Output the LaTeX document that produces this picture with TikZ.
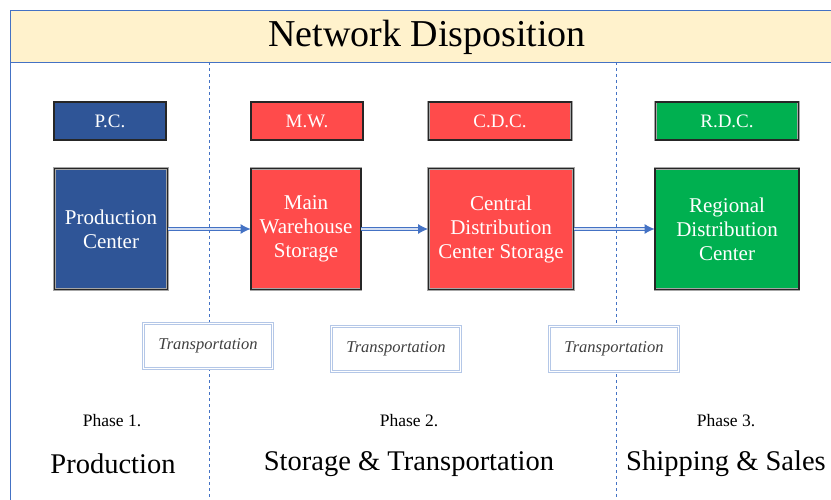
\documentclass[tikz,border=0pt]{standalone}
\usepackage{fontspec}
\setmainfont{Liberation Serif}
\usetikzlibrary{arrows.meta}

\definecolor{pcblue}{HTML}{2F5597}
\definecolor{mwred}{HTML}{FF4B4B}
\definecolor{rdcgreen}{HTML}{00B050}
\definecolor{lineblue}{HTML}{4472C4}
\definecolor{paleblue}{HTML}{B4C7E7}
\definecolor{banner}{HTML}{FFF2CC}

\begin{document}
\begin{tikzpicture}[x=1pt, y=-1pt, >={Latex[length=10pt,width=10pt]},
    tag/.style={draw=gray!70, line width=0.8pt, double=black!85, double distance=1.2pt,
                minimum width=#1, minimum height=38pt,
                text=white, font=\fontsize{19}{20}\selectfont},
    center/.style={draw=gray!70, line width=0.8pt, double=black!85, double distance=1.2pt,
                   minimum width=#1, minimum height=121pt,
                   text=white, align=center, font=\fontsize{21}{24}\selectfont},
    transport/.style={draw=paleblue, fill=white, line width=1pt, double=white, double distance=1.6pt,
                      minimum width=129pt, minimum height=45pt, font=\itshape\fontsize{16.5}{17}\selectfont,
                      text=black!75},
    flow/.style={draw=lineblue, line width=1pt, double=paleblue!60, double distance=1.8pt},
    phase/.style={font=\fontsize{17.5}{18}\selectfont},
    stage/.style={font=\fontsize{28.5}{30}\selectfont}]
    \useasboundingbox (0,0) rectangle (831,500);

    % Header and column lines
    \node[draw=lineblue, fill=banner, line width=0.8pt, minimum width=830pt, minimum height=52pt,
          anchor=north west, inner sep=0pt] (head) at (10,10) {};
    \node[font=\fontsize{38}{40}\selectfont] (title) at (427,37) {Network Disposition};
    \coordinate (lb) at (10,500);
    \draw[lineblue, line width=0.8pt] (head.south west) -- (lb);
    \coordinate (d1t) at (209,62);
    \coordinate (d1b) at (209,500);
    \coordinate (d2t) at (616,62);
    \coordinate (d2b) at (616,500);
    \draw[lineblue, dashed, thin] (d1t) -- (d1b) (d2t) -- (d2b);

    % Tags
    \node[tag=112pt, fill=pcblue] (tpc) at (110,121) {P.C.};
    \node[tag=112pt, fill=mwred] (tmw) at (307,121) {M.W.};
    \node[tag=143pt, fill=mwred] (tcdc) at (500,121) {C.D.C.};
    \node[tag=143pt, fill=rdcgreen] (trdc) at (727,121) {R.D.C.};

    % Centers
    \node[center=113pt, fill=pcblue] (pc) at (111,229) {Production\\Center};
    \node[center=110pt, fill=mwred] (mw) at (306,229) {Main\\Warehouse\\Storage};
    \node[center=145pt, fill=mwred] (cdc) at (501,229) {Central\\Distribution\\Center Storage};
    \node[center=144pt, fill=rdcgreen] (rdc) at (727,229) {Regional\\Distribution\\Center};

    % Flows
    \path[->]
        (pc) edge[flow] (mw)
        (mw) edge[flow] (cdc)
        (cdc) edge[flow] (rdc);

    % Transportation
    \node[transport] (tr1) at (208,346) {Transportation};
    \node[transport] (tr2) at (396,349) {Transportation};
    \node[transport] (tr3) at (614,349) {Transportation};

    % Phases
    \node[phase] (ph1) at (112,421) {Phase 1.};
    \node[phase] (ph2) at (409,421) {Phase 2.};
    \node[phase] (ph3) at (726,421) {Phase 3.};
    \node[stage] (st1) at (113,464) {Production};
    \node[stage] (st2) at (409,464) {Storage \& Transportation};
    \node[stage] (st3) at (726,464) {Shipping \& Sales};
\end{tikzpicture}
\end{document}
